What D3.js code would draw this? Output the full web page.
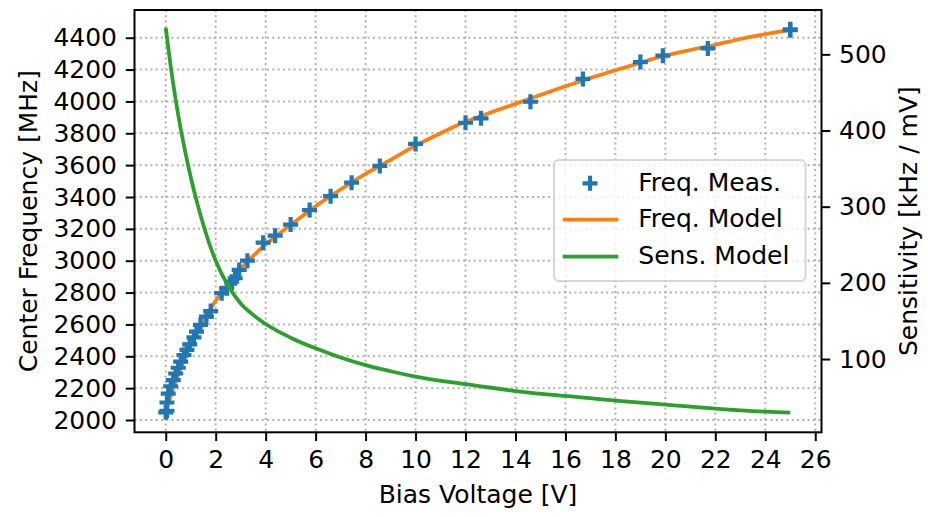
<!DOCTYPE html>
<html>
<head>
    <meta charset="utf-8" />
    <title>Bias Voltage vs Center Frequency</title>
    <style>
        body { margin: 0; background: #fff; }
        svg text { font-family: "DejaVu Sans", sans-serif; fill: #000; }
        .grid line { stroke: #b0b0b0; stroke-width: 2; stroke-dasharray: 2, 3.3; }
    </style>
</head>
<body>
<div id="chart"></div>
<script src="https://cdn.jsdelivr.net/npm/d3@7"></script>
<script>

    // measured points (bias voltage [V], center frequency [MHz])
    var measVolt = [0, 0.05, 0.05, 0.1, 0.2, 0.3, 0.4, 0.5, 0.6, 0.73, 0.85, 0.96, 1.13, 1.23, 1.39, 1.63, 1.8,
        2.24, 2.44, 2.64, 2.78, 2.94, 3.27, 3.9, 4.38, 5.0, 5.76, 6.6, 7.44, 8.57, 10.0, 12.0, 12.62, 14.6,
        16.7, 19.0, 19.9, 21.7, 25.0, 25.0];
    var measFreq = [2048, 2058, 2110, 2165, 2212, 2250, 2292, 2328, 2366, 2408, 2440, 2475, 2519, 2555, 2597, 2649, 2684,
        2796, 2827, 2868, 2890, 2942, 3000, 3113, 3157, 3227, 3318, 3405, 3490, 3595, 3733, 3866, 3894, 3998,
        4141, 4247, 4287, 4333, 4453, 4447];

    // frequency model
    var modelVolt = [0, 0.1, 0.2, 0.4, 0.6, 0.8, 1.0, 1.25, 1.5, 1.75, 2.0, 2.5, 3.0, 3.5, 4.0, 4.5, 5.0, 6.0, 7.0, 8.0,
        9.0, 10, 11, 12, 13, 14, 15, 16, 17, 18, 19, 20, 21, 22, 23, 24, 25];
    var modelFreq = [2045, 2100, 2150, 2242, 2325, 2400, 2470, 2550, 2622, 2688, 2748, 2855, 2950, 3030, 3102, 3165, 3225,
        3342, 3447, 3545, 3633, 3722, 3800, 3872, 3930, 3985, 4040, 4095, 4147, 4196, 4243, 4288, 4323, 4356, 4392, 4422, 4450];

    // sensitivity model [kHz / mV]
    var sensVolt = [0, 0.2, 0.4, 0.6, 0.8, 1.0, 1.25, 1.5, 1.75, 2.0, 2.5, 3.0, 3.5, 4.0, 5.0, 6.0, 7.0, 8.0, 9.0,
        10, 12, 14, 16, 18, 20, 22, 24, 25];
    var sensValue = [535, 484, 440, 402, 369, 339, 306, 277, 251, 229, 196, 173, 158, 146, 128, 114, 102, 92, 84,
        77, 67, 58, 51.5, 45.5, 40, 35, 31, 29.5];

    var xTicks = d3.range(0, 27, 2);
    var yTicks = d3.range(2000, 4401, 200);
    var y2Ticks = [100, 200, 300, 400, 500];

    var seriesNames = ["Freq. Meas.", "Freq. Model", "Sens. Model"];
    var colors = ["#1f77b4", "#ff7f0e", "#2ca02c"];

    var W = 928, H = 517;
    var plot = {left: 134.5, right: 821.5, top: 10, bottom: 432.3};

    var x = d3.scaleLinear().domain([-1.25, 26.25]).range([plot.left, plot.right]);
    var y = d3.scaleLinear().domain([1922.8, 4574]).range([plot.bottom, plot.top]);
    var y2 = d3.scaleLinear().domain([3.8, 558.2]).range([plot.bottom, plot.top]);

    var svg = d3.select("#chart").append("svg")
        .attr("width", W)
        .attr("height", H);

    // grid
    var grid = svg.append("g").attr("class", "grid");
    grid.selectAll(".gx").data(xTicks).join("line")
        .attr("x1", d => x(d)).attr("x2", d => x(d))
        .attr("y1", plot.top).attr("y2", plot.bottom);
    grid.selectAll(".gy").data(yTicks).join("line")
        .attr("x1", plot.left).attr("x2", plot.right)
        .attr("y1", d => y(d)).attr("y2", d => y(d));

    // freq model line
    var freqLine = d3.line()
        .x(d => x(d[0]))
        .y(d => y(d[1]))
        .curve(d3.curveMonotoneX);
    svg.append("path")
        .datum(d3.zip(modelVolt, modelFreq))
        .attr("fill", "none")
        .attr("stroke", colors[1])
        .attr("stroke-width", 3.75)
        .attr("d", freqLine);

    // measured markers
    var plus = "M-7.5,0H7.5M0,-7.5V7.5";
    svg.append("g")
        .selectAll("path")
        .data(d3.zip(measVolt, measFreq))
        .join("path")
        .attr("transform", d => "translate(" + x(d[0]) + "," + y(d[1]) + ")")
        .attr("d", plus)
        .attr("stroke", colors[0])
        .attr("stroke-width", 4.2)
        .attr("fill", "none");

    // sensitivity line (right axis)
    var sensLine = d3.line()
        .x(d => x(d[0]))
        .y(d => y2(d[1]))
        .curve(d3.curveMonotoneX);
    svg.append("path")
        .datum(d3.zip(sensVolt, sensValue))
        .attr("fill", "none")
        .attr("stroke", colors[2])
        .attr("stroke-width", 3.75)
        .attr("d", sensLine);

    // axes
    var tickLen = 8.75, tickPad = 8.75;
    function styleAxis(g) {
        g.select(".domain").remove();
        g.selectAll(".tick line").attr("stroke", "#000").attr("stroke-width", 2);
        g.selectAll(".tick text").style("font-size", "25px");
    }

    svg.append("g")
        .attr("transform", "translate(0," + plot.bottom + ")")
        .call(d3.axisBottom(x).tickValues(xTicks).tickFormat(d3.format("d")).tickSize(tickLen).tickPadding(tickPad))
        .call(styleAxis);

    svg.append("g")
        .attr("transform", "translate(" + plot.left + ",0)")
        .call(d3.axisLeft(y).tickValues(yTicks).tickFormat(d3.format("d")).tickSize(tickLen).tickPadding(tickPad))
        .call(styleAxis);

    svg.append("g")
        .attr("transform", "translate(" + plot.right + ",0)")
        .call(d3.axisRight(y2).tickValues(y2Ticks).tickFormat(d3.format("d")).tickSize(tickLen).tickPadding(tickPad))
        .call(styleAxis);

    // frame
    svg.append("rect")
        .attr("x", plot.left).attr("y", plot.top)
        .attr("width", plot.right - plot.left)
        .attr("height", plot.bottom - plot.top)
        .attr("fill", "none")
        .attr("stroke", "#000")
        .attr("stroke-width", 2);

    // axis labels
    svg.append("text")
        .attr("x", (plot.left + plot.right) / 2)
        .attr("y", 503)
        .attr("text-anchor", "middle")
        .style("font-size", "25px")
        .text("Bias Voltage [V]");

    svg.append("text")
        .attr("transform", "translate(37," + (plot.top + plot.bottom) / 2 + ") rotate(-90)")
        .attr("text-anchor", "middle")
        .style("font-size", "25px")
        .text("Center Frequency [MHz]");

    svg.append("text")
        .attr("transform", "translate(917," + (plot.top + plot.bottom) / 2 + ") rotate(-90)")
        .attr("text-anchor", "middle")
        .style("font-size", "25px")
        .text("Sensitivity [kHz / mV]");

    // legend
    var legend = svg.append("g");
    legend.append("rect")
        .attr("x", 554).attr("y", 160)
        .attr("width", 251.5).attr("height", 121)
        .attr("rx", 5).attr("ry", 5)
        .attr("fill", "#fff").attr("fill-opacity", 0.8)
        .attr("stroke", "#cccccc").attr("stroke-opacity", 0.8)
        .attr("stroke-width", 2);

    var rowY = [183.3, 219.5, 256.5];
    legend.append("path")
        .attr("transform", "translate(590," + rowY[0] + ")")
        .attr("d", plus)
        .attr("stroke", colors[0])
        .attr("stroke-width", 4.2)
        .attr("fill", "none");
    [1, 2].forEach(function (i) {
        legend.append("line")
            .attr("x1", 562.7).attr("x2", 618.3)
            .attr("y1", rowY[i]).attr("y2", rowY[i])
            .attr("stroke", colors[i])
            .attr("stroke-width", 3.75);
    });
    legend.selectAll(".ltext").data(seriesNames).join("text")
        .attr("x", 638.3)
        .attr("y", (d, i) => rowY[i] + 7.5)
        .style("font-size", "25px")
        .text(d => d);

</script>
</body>
</html>
